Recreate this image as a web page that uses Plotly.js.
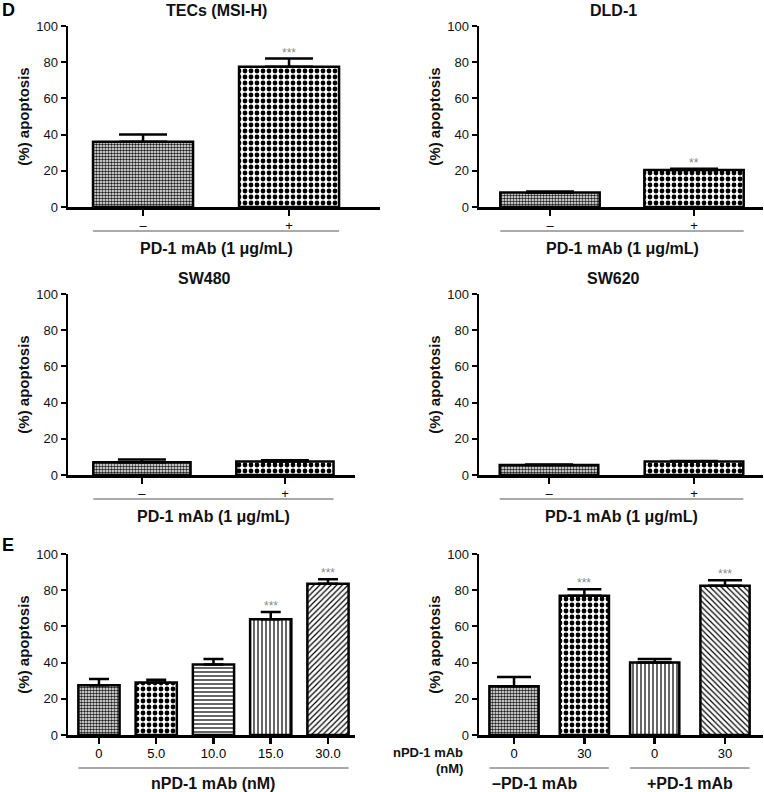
<!DOCTYPE html>
<html><head><meta charset="utf-8">
<script src="https://cdn.plot.ly/plotly-3.0.1.min.js"></script>
<style>html,body{margin:0;padding:0;background:#fff}#c{width:764px;height:792px}</style>
</head><body><div id="c"></div>
<script>
// ---- data ----
var tecsLabels = ["–", "+"];
var tecsVals = [36, 77.5];
var tecsErr = [4, 4.5];
var tecsSig = ["", "***"];

var dldLabels = ["–", "+"];
var dldVals = [8, 20.5];
var dldErr = [0.6, 0.6];
var dldSig = ["", "**"];

var sw480Labels = ["–", "+"];
var sw480Vals = [7, 7.5];
var sw480Err = [1.5, 0.6];
var sw480Sig = ["", ""];

var sw620Labels = ["–", "+"];
var sw620Vals = [5.5, 7.5];
var sw620Err = [0.3, 0.3];
var sw620Sig = ["", ""];

var e1Labels = ["0", "5.0", "10.0", "15.0", "30.0"];
var e1Vals = [27.5, 29, 39, 64, 83.5];
var e1Err = [3.5, 1.5, 3, 4, 2.5];
var e1Sig = ["", "", "", "***", "***"];

var e2Labels = ["0", "30", "0", "30"];
var e2Vals = [27, 77, 40, 82.5];
var e2Err = [5, 3.5, 2, 3];
var e2Sig = ["", "***", "", "***"];

var yTicks = [0, 20, 40, 60, 80, 100];

// ---- styling / layout ----
var W = 764, H = 792;
function py(p) { return 1 - p / H; }
function px(p) { return p / W; }

var FINE = {shape: ".", size: 3, solidity: 0.55, fgcolor: "#222"};
var COARSE = {shape: ".", size: 6, solidity: 0.5, fgcolor: "#000"};
var HORIZ = {shape: "-", size: 4, solidity: 0.3, fgcolor: "#000"};
var VERT = {shape: "|", size: 4, solidity: 0.3, fgcolor: "#000"};
var DIAG1 = {shape: "/", size: 4, solidity: 0.3, fgcolor: "#000"};
var DIAG2 = {shape: "\\", size: 4, solidity: 0.3, fgcolor: "#000"};

function patArr(list) {
  return {
    shape: list.map(function (p) { return p.shape; }),
    size: list.map(function (p) { return p.size; }),
    solidity: list.map(function (p) { return p.solidity; }),
    fgcolor: list.map(function (p) { return p.fgcolor; }),
    bgcolor: "#fff",
    fillmode: "replace"
  };
}

var panels = [
  {labels: tecsLabels, vals: tecsVals, err: tecsErr, sig: tecsSig, pats: [FINE, COARSE], title: "TECs (MSI-H)",
   xd: [68, 380], yd: [26, 207], range: [-0.514, 1.623], bw: 0.685, cap: 24, xtitle: "PD-1 mAb (1 μg/mL)", ul: 24, xt: 41},
  {labels: dldLabels, vals: dldVals, err: dldErr, sig: dldSig, pats: [FINE, COARSE], title: "DLD-1",
   xd: [479, 763], yd: [26, 207], range: [-0.493, 1.479], bw: 0.69, cap: 24, xtitle: "PD-1 mAb (1 μg/mL)", ul: 24, xt: 41},
  {labels: sw480Labels, vals: sw480Vals, err: sw480Err, sig: sw480Sig, pats: [FINE, COARSE], title: "SW480",
   xd: [68, 355], yd: [294, 475], range: [-0.517, 1.49], bw: 0.68, cap: 24, xtitle: "PD-1 mAb (1 μg/mL)", ul: 24, xt: 41},
  {labels: sw620Labels, vals: sw620Vals, err: sw620Err, sig: sw620Sig, pats: [FINE, COARSE], title: "SW620",
   xd: [479, 763], yd: [294, 475], range: [-0.483, 1.476], bw: 0.68, cap: 24, xtitle: "PD-1 mAb (1 μg/mL)", ul: 24, xt: 41},
  {labels: e1Labels, vals: e1Vals, err: e1Err, sig: e1Sig, pats: [FINE, COARSE, HORIZ, VERT, DIAG1], title: "",
   xd: [68, 355], yd: [554, 735], range: [-0.541, 4.472], bw: 0.72, cap: 10, xtitle: "nPD-1 mAb (nM)", ul: 33, xt: 48},
  {labels: e2Labels, vals: e2Vals, err: e2Err, sig: e2Sig, pats: [FINE, COARSE, VERT, DIAG2], title: "",
   xd: [479, 763], yd: [554, 735], range: [-0.498, 3.54], bw: 0.70, cap: 17, xtitle: null, ul: 33, xt: 48}
];

var FONT = "Liberation Sans, Arial, sans-serif";
var data = [];
var layout = {
  width: W, height: H, margin: {l: 0, r: 0, t: 0, b: 0},
  paper_bgcolor: "#fff", plot_bgcolor: "rgba(0,0,0,0)",
  showlegend: false, font: {family: FONT, color: "#111"},
  shapes: [], annotations: []
};

panels.forEach(function (p, i) {
  var n = i + 1;
  var xa = "x" + (n === 1 ? "" : n), ya = "y" + (n === 1 ? "" : n);
  var xs = p.vals.map(function (v, k) { return k; });
  data.push({
    type: "bar", x: xs, y: p.vals, xaxis: xa, yaxis: ya, width: p.bw,
    marker: {color: "#fff", line: {color: "#000", width: 2.5}, pattern: patArr(p.pats)},
    error_y: {type: "data", symmetric: false, array: p.err, arrayminus: p.vals.map(function () { return 0; }),
              color: "#000", thickness: 2.5, width: p.cap},
    hoverinfo: "skip"
  });
  var xk = "xaxis" + (n === 1 ? "" : n), yk = "yaxis" + (n === 1 ? "" : n);
  layout[xk] = {
    domain: [px(p.xd[0]), px(p.xd[1])], anchor: ya, range: p.range, fixedrange: true,
    tickmode: "array", tickvals: xs, ticktext: p.labels,
    ticks: "outside", ticklen: 6, tickwidth: 2.5, tickcolor: "#000", ticklabelstandoff: -1,
    showline: true, linecolor: "#000", linewidth: 2.5, showgrid: false, zeroline: false,
    tickfont: {size: 13, family: FONT, color: "#000"}
  };
  layout[yk] = {
    domain: [py(p.yd[1]), py(p.yd[0])], anchor: xa, range: [0, 100], fixedrange: true,
    tickmode: "array", tickvals: yTicks,
    ticks: "outside", ticklen: 5, tickwidth: 2, tickcolor: "#000",
    showline: true, linecolor: "#000", linewidth: 2.5, showgrid: false, zeroline: false,
    tickfont: {size: 13, family: FONT, color: "#111"},
    title: {text: "<b>(%) apoptosis</b>", font: {size: 15, family: FONT, color: "#111"}, standoff: 3}
  };
  // title
  if (p.title) {
    layout.annotations.push({xref: xa, yref: "paper", x: (p.range[0] + p.range[1]) / 2 - 0.05, y: py(p.yd[0] - 16),
      text: "<b>" + p.title + "</b>", showarrow: false, font: {size: 16, family: FONT, color: "#111"},
      xanchor: "center", yanchor: "middle"});
  }
  // significance
  p.sig.forEach(function (s, k) {
    if (!s) return;
    layout.annotations.push({xref: xa, yref: ya, x: k, y: p.vals[k] + p.err[k], text: s, showarrow: false,
      font: {size: 12, family: FONT, color: "#888"}, yanchor: "bottom", yshift: -3});
  });
  var ulY = py(p.yd[1] + p.ul);
  var ttY = py(p.yd[1] + p.xt);
  if (p.xtitle) {
    layout.shapes.push({type: "line", xref: xa, yref: "paper", x0: -p.bw / 2, x1: xs.length - 1 + p.bw / 2,
      y0: ulY, y1: ulY, line: {color: "#555", width: 1}});
    layout.annotations.push({xref: xa, yref: "paper", x: (xs.length - 1) / 2, y: ttY, text: "<b>" + p.xtitle + "</b>",
      showarrow: false, font: {size: 16, family: FONT, color: "#111"}, xanchor: "center", yanchor: "middle"});
  } else {
    [[0, 1, "–PD-1 mAb", -0.2], [2, 3, "+PD-1 mAb", 0]].forEach(function (g) {
      layout.shapes.push({type: "line", xref: xa, yref: "paper", x0: g[0] - p.bw / 2, x1: g[1] + p.bw / 2,
        y0: ulY, y1: ulY, line: {color: "#555", width: 1}});
      layout.annotations.push({xref: xa, yref: "paper", x: (g[0] + g[1]) / 2 + g[3], y: ttY, text: "<b>" + g[2] + "</b>",
        showarrow: false, font: {size: 16, family: FONT, color: "#111"}, xanchor: "center", yanchor: "middle"});
    });
    layout.annotations.push({xref: "paper", yref: "paper", x: px(465), y: py(752), text: "<b>nPD-1 mAb</b>",
      showarrow: false, font: {size: 13, family: FONT, color: "#111"}, xanchor: "right", yanchor: "middle"});
    layout.annotations.push({xref: "paper", yref: "paper", x: px(465), y: py(768), text: "<b>(nM)</b>",
      showarrow: false, font: {size: 13, family: FONT, color: "#111"}, xanchor: "right", yanchor: "middle"});
  }
});

layout.annotations.push({xref: "paper", yref: "paper", x: px(0), y: py(10), text: "<b>D</b>", showarrow: false,
  font: {size: 18, family: FONT, color: "#000"}, xanchor: "left", yanchor: "middle"});
layout.annotations.push({xref: "paper", yref: "paper", x: px(0), y: py(545), text: "<b>E</b>", showarrow: false,
  font: {size: 18, family: FONT, color: "#000"}, xanchor: "left", yanchor: "middle"});

Plotly.newPlot("c", data, layout, {staticPlot: true, displayModeBar: false});
</script></body></html>
